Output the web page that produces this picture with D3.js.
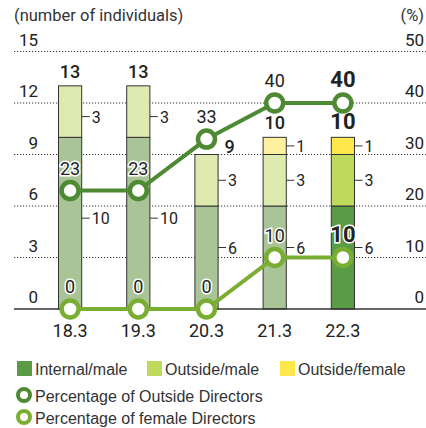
<!DOCTYPE html>
<meta charset="utf-8">
<style>
body { margin: 0; background: #fff; }
svg { font-family: Roboto, "Liberation Sans", sans-serif; }
.legend text { font-family: "Liberation Sans", Arial, sans-serif; }
</style>
<svg width="426" height="428"></svg>
<script src="https://d3js.org/d3.v7.min.js"></script>
<script>

var years = ["18.3", "19.3", "20.3", "21.3", "22.3"];
var internalMale = [10, 10, 6, 6, 6];
var outsideMale = [3, 3, 3, 3, 3];
var outsideFemale = [0, 0, 0, 1, 1];
var pctOutside = [23, 23, 33, 40, 40];
var pctFemale = [0, 0, 0, 10, 10];
var leftTicks = [0, 3, 6, 9, 12, 15];
var rightTicks = [0, 10, 20, 30, 40, 50];

var svg = d3.select("svg");

var x = d3.scaleBand().domain(years).range([36, 377]).paddingInner(0.66).paddingOuter(0.33);
var y = d3.scaleLinear().domain([0, 15]).range([309, 51.5]);
var y2 = d3.scaleLinear().domain([0, 50]).range([309, 51.5]);
var cx = function(i) { return x(years[i]) + x.bandwidth() / 2; };
var last = years.length - 1;

var colFaded = ["#a9c597", "#dfeab0", "#fff0a0"];
var colFull = ["#5a9b45", "#bed95c", "#fde74a"];
var darkLine = "#4d8a33", lightLine = "#7aae32";

// titles
svg.append("text").attr("x", 14).attr("y", 21).attr("font-size", 16.5).attr("fill", "#333")
  .text("(number of individuals)");
svg.append("text").attr("x", 424).attr("y", 21).attr("font-size", 16.5).attr("fill", "#333")
  .attr("text-anchor", "end").text("(%)");

// gridlines
svg.append("g").selectAll("line").data(leftTicks.filter(d => d > 0)).enter().append("line")
  .attr("x1", 14).attr("x2", 426)
  .attr("y1", d => y(d)).attr("y2", d => y(d))
  .attr("stroke", "#333").attr("stroke-width", 1).attr("stroke-dasharray", "1.2,1.8");

// left axis labels
svg.append("g").selectAll("text").data(leftTicks).enter().append("text")
  .attr("x", 38).attr("y", d => y(d) - 6).attr("text-anchor", "end")
  .attr("font-size", 17).attr("fill", "#222").text(d => d);

// right axis labels
svg.append("g").selectAll("text").data(rightTicks).enter().append("text")
  .attr("x", 424).attr("y", d => y2(d) - 6).attr("text-anchor", "end")
  .attr("font-size", 17).attr("fill", "#222").text(d => d);

// stacked bars
var stack = years.map(function(yr, i) {
  var segs = [internalMale[i], outsideMale[i], outsideFemale[i]];
  var base = 0;
  return segs.map(function(v, k) {
    var s = { i: i, k: k, v: v, y0: base, y1: base + v };
    base += v;
    return s;
  }).filter(s => s.v > 0);
});
var segs = stack.flat();

svg.append("g").selectAll("rect").data(segs).enter().append("rect")
  .attr("x", d => x(years[d.i]))
  .attr("width", x.bandwidth())
  .attr("y", d => y(d.y1))
  .attr("height", d => y(d.y0) - y(d.y1))
  .attr("fill", d => (d.i === last ? colFull : colFaded)[d.k])
  .attr("stroke", "#333").attr("stroke-width", 1);

// segment labels with dash
var segLab = svg.append("g");
segs.forEach(function(d) {
  var yy = y((d.y0 + d.y1) / 2) + (d.k === 0 && d.v === 6 ? -10 : 0) + (d.k === 0 && d.v === 10 ? -5 : 0) + (d.k === 1 && d.i < 2 ? 5 : 0);
  var bx = x(years[d.i]) + x.bandwidth();
  segLab.append("line").attr("x1", bx).attr("x2", bx + 8).attr("y1", yy).attr("y2", yy)
    .attr("stroke", "#333").attr("stroke-width", 1);
  segLab.append("text").attr("x", bx + 10).attr("y", yy + 6).attr("font-size", 16).attr("fill", "#222")
    .text(d.v);
});

// baseline
svg.append("line").attr("x1", 14).attr("x2", 426).attr("y1", y(0)).attr("y2", y(0))
  .attr("stroke", "#333").attr("stroke-width", 1.5);

// totals
var totals = years.map((yr, i) => internalMale[i] + outsideMale[i] + outsideFemale[i]);
svg.append("g").selectAll("text").data(totals).enter().append("text")
  .attr("x", (d, i) => i === 2 ? cx(i) + 23 : cx(i))
  .attr("y", (d, i) => i === 2 ? y(d) - 2 : y(d) - 8)
  .attr("text-anchor", "middle")
  .attr("font-size", (d, i) => i === last ? 22 : 18)
  .attr("font-weight", (d, i) => i === last ? 700 : 500)
  .attr("fill", "#222").text(d => d);

// lines
function drawSeries(vals, color, labelBig) {
  var line = d3.line().x((d, i) => cx(i)).y(d => y2(d));
  svg.append("path").datum(vals).attr("d", line).attr("fill", "none")
    .attr("stroke", color).attr("stroke-width", 4);
  svg.append("g").selectAll("circle").data(vals).enter().append("circle")
    .attr("cx", (d, i) => cx(i)).attr("cy", d => y2(d)).attr("r", 8.5)
    .attr("fill", "#fff").attr("stroke", color).attr("stroke-width", 4.5);
  svg.append("g").selectAll("text").data(vals).enter().append("text")
    .attr("x", (d, i) => cx(i)).attr("y", d => y2(d) - 16)
    .attr("text-anchor", "middle")
    .attr("font-size", (d, i) => i === last && labelBig ? 22 : 18)
    .attr("font-weight", (d, i) => i === last && labelBig ? 700 : 400)
    .attr("fill", "#222")
    .attr("stroke", "#fff").attr("stroke-width", 3).attr("paint-order", "stroke")
    .text(d => d);
}
drawSeries(pctFemale, lightLine, true);
drawSeries(pctOutside, darkLine, true);

// x labels
svg.append("g").selectAll("text").data(years).enter().append("text")
  .attr("x", (d, i) => cx(i)).attr("y", 337).attr("text-anchor", "middle")
  .attr("font-size", 18).attr("fill", "#222").text(d => d);

// legend
var legend = svg.append("g").attr("class", "legend");
var legItems = [["Internal/male", colFull[0], 17], ["Outside/male", colFull[1], 147], ["Outside/female", colFull[2], 280]];
legItems.forEach(function(l) {
  legend.append("rect").attr("x", l[2]).attr("y", 361).attr("width", 15).attr("height", 15).attr("fill", l[1]);
  legend.append("text").attr("x", l[2] + 18).attr("y", 375).attr("font-size", 16).attr("fill", "#333").text(l[0]);
});
var legLines = [["Percentage of Outside Directors", darkLine, 395], ["Percentage of female Directors", lightLine, 417]];
legLines.forEach(function(l) {
  legend.append("circle").attr("cx", 24).attr("cy", l[2]).attr("r", 6).attr("fill", "#fff")
    .attr("stroke", l[1]).attr("stroke-width", 4);
  legend.append("text").attr("x", 35).attr("y", l[2] + 7).attr("font-size", 16).attr("fill", "#333").text(l[0]);
});

</script>
